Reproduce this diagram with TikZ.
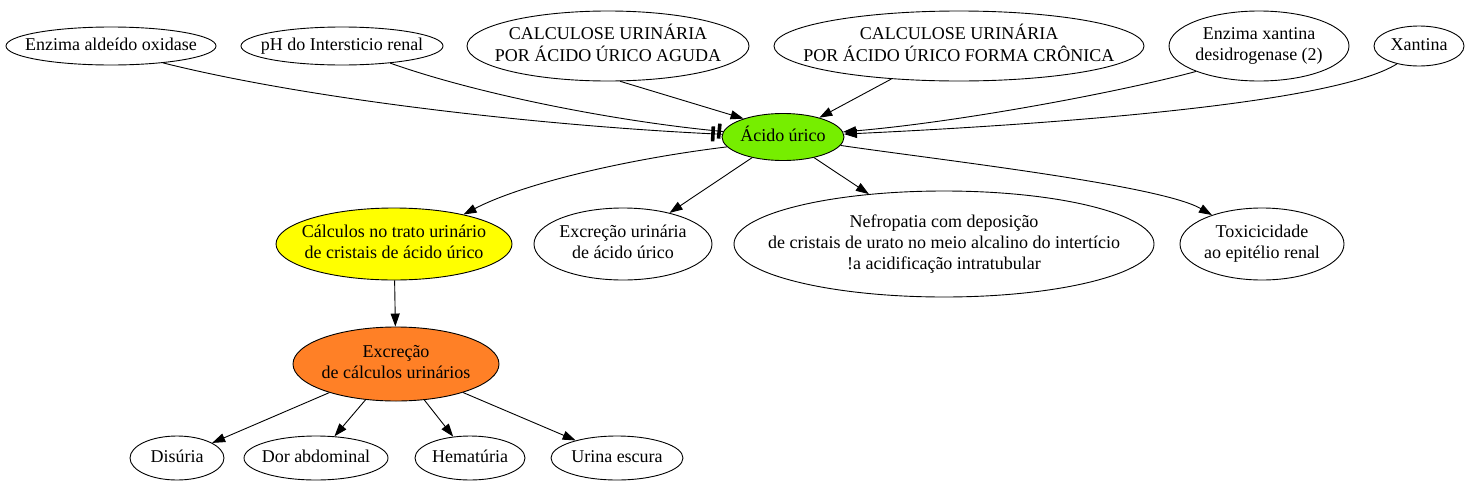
\documentclass[tikz,border=0pt]{standalone}
\usepackage{fontspec}
\setmainfont{Liberation Serif}
\usetikzlibrary{shapes.geometric,arrows.meta,decorations.markings}
\definecolor{acidgreen}{RGB}{118,238,0}
\definecolor{excorange}{RGB}{255,128,38}
\definecolor{calcyellow}{RGB}{255,255,0}
\newcommand{\lns}[1]{\makebox[0pt]{\begin{tabular}{@{}c@{}}#1\end{tabular}}}
\begin{document}
\begin{tikzpicture}[x=1pt,y=-1pt,
  ent/.style={ellipse, draw, line width=0.9pt, inner sep=0pt, font=\fontsize{18}{21}\selectfont},
  arr/.style={-{Triangle[length=13pt,width=9pt]}, line width=0.9pt},
  teeedge/.style={line width=0.9pt, postaction={decorate, decoration={markings,
      mark=at position #1 with {\fill (-1.8pt,-7.5pt) rectangle (1.8pt,7.5pt);}}}},
  teeedge/.default=-6pt]
\useasboundingbox (0,0) rectangle (1472,485);
% top row
\node[ent, minimum width=210pt, minimum height=38pt] (ald) at (111,46) {\lns{Enzima aldeído oxidase}};
\node[ent, minimum width=202pt, minimum height=38pt] (ph) at (342,46) {\lns{pH do Intersticio renal}};
\node[ent, minimum width=282pt, minimum height=70pt] (aguda) at (608,46) {\lns{CALCULOSE URINÁRIA\\POR ÁCIDO ÚRICO AGUDA}};
\node[ent, minimum width=370pt, minimum height=70pt] (cronica) at (959,46) {\lns{CALCULOSE URINÁRIA\\POR ÁCIDO ÚRICO FORMA CRÔNICA}};
\node[ent, minimum width=180pt, minimum height=70pt] (xdes) at (1259,46) {\lns{Enzima xantina\\desidrogenase (2)}};
\node[ent, minimum width=90pt, minimum height=40pt] (xant) at (1419,46) {\lns{Xantina}};
% centre
\node[ent, fill=acidgreen, minimum width=122pt, minimum height=47pt] (acido) at (783,137) {\lns{Ácido úrico}};
% middle row
\node[ent, fill=calcyellow, minimum width=236pt, minimum height=72pt] (calc) at (394,244) {\lns{Cálculos no trato urinário\\de cristais de ácido úrico}};
\node[ent, minimum width=178pt, minimum height=72pt] (exur) at (623,244) {\lns{Excreção urinária\\de ácido úrico}};
\node[ent, minimum width=420pt, minimum height=106pt] (nef) at (944,244) {\lns{Nefropatia com deposição\\de cristais de urato no meio alcalino do intertício\\!a acidificação intratubular}};
\node[ent, minimum width=164pt, minimum height=72pt] (tox) at (1262,244) {\lns{Toxicicidade\\ao epitélio renal}};
% lower
\node[ent, fill=excorange, minimum width=206pt, minimum height=74pt] (excr) at (396,364) {\lns{Excreção\\de cálculos urinários}};
\node[ent, minimum width=94pt, minimum height=44pt] (dis) at (177,458) {\lns{Disúria}};
\node[ent, minimum width=144pt, minimum height=44pt] (dor) at (316,458) {\lns{Dor abdominal}};
\node[ent, minimum width=110pt, minimum height=44pt] (hem) at (470,458) {\lns{Hematúria}};
\node[ent, minimum width=132pt, minimum height=44pt] (urina) at (617,458) {\lns{Urina escura}};
% edges into Acido urico
\draw[teeedge=-9pt] (ald.-18) .. controls (320,102) and (560,127) .. (acido);
\draw[teeedge=-4pt] (ph) .. controls (480,95) and (620,122) .. (acido);
\draw[arr] (aguda.-71) -- (acido.155);
\draw[arr] (cronica.-154) -- (acido.28);
\draw[arr] (xdes.-158) .. controls (1120,92) and (960,122) .. (acido);
\draw[arr] (xant.-141) .. controls (1340,100) and (1100,122) .. (acido);
% edges out of Acido urico
\draw[arr] (acido.-170) .. controls (620,160) and (520,185) .. (calc.23);
\draw[arr] (acido) -- (exur);
\draw[arr] (acido) -- (nef);
\draw[arr] (acido) .. controls (940,160) and (1160,185) .. (tox);
% lower edges
\draw[arr] (calc) -- (excr);
\draw[arr] (excr) -- (dis);
\draw[arr] (excr) -- (dor);
\draw[arr] (excr) -- (hem);
\draw[arr] (excr) -- (urina);
\end{tikzpicture}
\end{document}
